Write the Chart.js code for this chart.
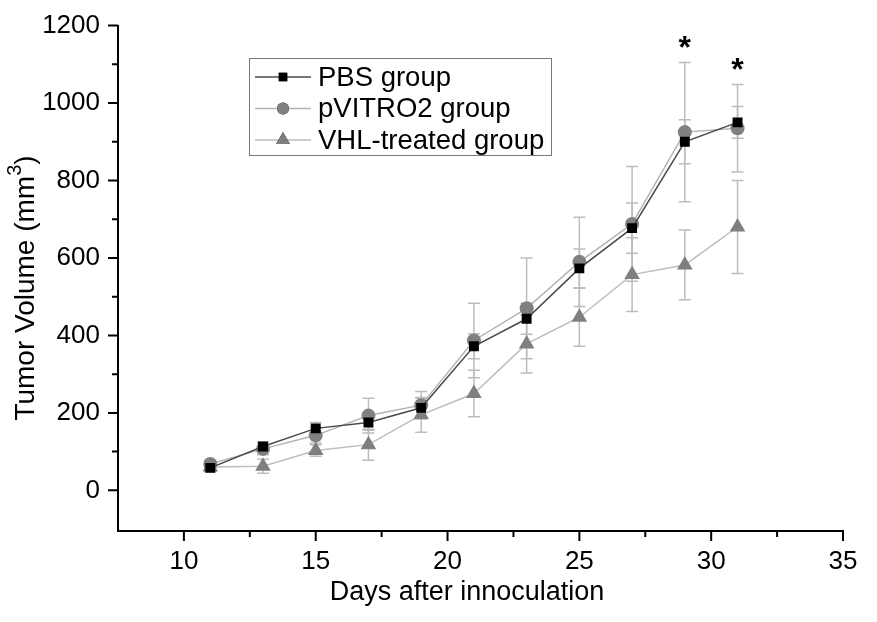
<!DOCTYPE html>
<html>
<head>
<meta charset="utf-8">
<script src="https://cdn.jsdelivr.net/npm/chart.js@4/dist/chart.umd.min.js"></script>
<style>
  html, body { margin: 0; padding: 0; background: #fff; }
  #wrap { width: 877px; height: 622px; }
</style>
</head>
<body>
<div id="wrap"><canvas id="chart"></canvas></div>
<script>
// data
const days = [11, 13, 15, 17, 19, 21, 23, 25, 27, 29, 31];
const pbsValues = [58, 113, 160, 175, 213, 372, 443, 573, 677, 900, 950];
const pvitroValues = [68, 107, 142, 193, 220, 387, 470, 590, 688, 925, 935];
const vhlValues = [60, 62, 103, 118, 195, 250, 378, 447, 557, 582, 680];
const pbsErr = [8, 12, 15, 20, 25, 32, 40, 50, 65, 57, 41];
const pvitroErr = [10, 15, 20, 45, 35, 96, 130, 115, 148, 180, 113];
const vhlErr = [12, 18, 15, 40, 45, 60, 75, 75, 95, 90, 120];
const starDays = [29, 31];
const xTicks = [10, 15, 20, 25, 30, 35];
const yTicks = [0, 200, 400, 600, 800, 1000, 1200];
const seriesNames = ['PBS group', 'pVITRO2 group', 'VHL-treated group'];

const FONT = 'Arial, "Liberation Sans", sans-serif';

// error bars, axis ticks, titles, stars and legend
const extras = {
  id: 'extras',
  beforeDatasetsDraw(chart) {
    const ctx = chart.ctx;
    const x = chart.scales.x, y = chart.scales.y;
    const errs = [pbsErr, pvitroErr, vhlErr];
    ctx.save();
    ctx.strokeStyle = '#bdbdbd';
    ctx.lineWidth = 1.5;
    chart.data.datasets.forEach((ds, i) => {
      ds.data.forEach((p, j) => {
        const px = x.getPixelForValue(p.x);
        const top = y.getPixelForValue(p.y + errs[i][j]);
        const bot = y.getPixelForValue(p.y - errs[i][j]);
        ctx.beginPath();
        ctx.moveTo(px, top); ctx.lineTo(px, bot);
        ctx.moveTo(px - 6, top); ctx.lineTo(px + 6, top);
        ctx.moveTo(px - 6, bot); ctx.lineTo(px + 6, bot);
        ctx.stroke();
      });
    });
    ctx.restore();
  },
  afterDraw(chart) {
    const ctx = chart.ctx;
    const x = chart.scales.x, y = chart.scales.y;
    const area = chart.chartArea;
    ctx.save();
    // major + minor ticks
    ctx.strokeStyle = '#000';
    ctx.lineWidth = 2;
    ctx.beginPath();
    xTicks.forEach((v, i) => {
      const px = x.getPixelForValue(v);
      ctx.moveTo(px, area.bottom); ctx.lineTo(px, area.bottom + 10);
      if (i > 0) {
        const mx = x.getPixelForValue(v - 2.5);
        ctx.moveTo(mx, area.bottom); ctx.lineTo(mx, area.bottom + 6);
      }
    });
    yTicks.forEach((v, i) => {
      const py = y.getPixelForValue(v);
      ctx.moveTo(area.left, py); ctx.lineTo(area.left - 10, py);
      if (i > 0) {
        const my = y.getPixelForValue(v - 100);
        ctx.moveTo(area.left, my); ctx.lineTo(area.left - 6, my);
      }
    });
    ctx.stroke();

    // significance stars above error bars
    ctx.fillStyle = '#000';
    ctx.font = 'bold 32px ' + FONT;
    ctx.textAlign = 'center';
    ctx.textBaseline = 'middle';
    starDays.forEach(d => {
      const j = days.indexOf(d);
      const top = Math.max(pbsValues[j] + pbsErr[j], pvitroValues[j] + pvitroErr[j], vhlValues[j] + vhlErr[j]);
      ctx.fillText('*', x.getPixelForValue(d), y.getPixelForValue(top) - 13);
    });

    // axis titles
    ctx.font = '27px ' + FONT;
    ctx.fillText('Days after innoculation', 467, 593);
    ctx.save();
    ctx.translate(26, 288);
    ctx.rotate(-Math.PI / 2);
    const main = 'Tumor Volume (mm';
    const supFont = '20px ' + FONT;
    ctx.font = '28px ' + FONT;
    const wMain = ctx.measureText(main).width;
    const wClose = ctx.measureText(')').width;
    ctx.font = supFont;
    const wSup = ctx.measureText('3').width;
    const total = wMain + wSup + wClose;
    let sx = -total / 2;
    ctx.textAlign = 'left';
    ctx.font = '28px ' + FONT;
    ctx.fillText(main, sx, 0);
    sx += wMain;
    ctx.font = supFont;
    ctx.fillText('3', sx, -11);
    sx += wSup;
    ctx.font = '28px ' + FONT;
    ctx.fillText(')', sx, 0);
    ctx.restore();

    // legend box
    const lx = 249, ly = 58, lw = 302, lh = 97;
    ctx.strokeStyle = '#777';
    ctx.lineWidth = 1;
    ctx.strokeRect(lx + 0.5, ly + 0.5, lw, lh);
    ctx.font = '27.5px ' + FONT;
    ctx.textAlign = 'left';
    chart.data.datasets.forEach((ds, i) => {
      const ry = ly + 19 + i * 31.5;
      ctx.strokeStyle = ds.borderColor;
      ctx.lineWidth = 1.5;
      ctx.beginPath();
      ctx.moveTo(lx + 6, ry); ctx.lineTo(lx + 62, ry);
      ctx.stroke();
      Chart.helpers.drawPoint(ctx, {
        pointStyle: ds.pointStyle,
        radius: ds.pointRadius - 1,
        borderWidth: 0
      }, lx + 34, ry);
      ctx.fillStyle = ds.pointBackgroundColor;
      ctx.fill();
      ctx.fillStyle = '#000';
      ctx.fillText(seriesNames[i], lx + 69, ry + 1);
    });
    ctx.restore();
  }
};

function toPoints(vals) {
  return days.map((d, i) => ({ x: d, y: vals[i] }));
}

new Chart(document.getElementById('chart'), {
  type: 'line',
  data: {
    datasets: [
      {
        label: seriesNames[0],
        data: toPoints(pbsValues),
        borderColor: '#4a4a4a',
        borderWidth: 1.5,
        pointStyle: 'rect',
        pointRadius: 7,
        pointBackgroundColor: '#000',
        pointBorderColor: '#000',
        pointBorderWidth: 0
      },
      {
        label: seriesNames[1],
        data: toPoints(pvitroValues),
        borderColor: '#b4b4b4',
        borderWidth: 1.5,
        pointStyle: 'circle',
        pointRadius: 7,
        pointBackgroundColor: '#808080',
        pointBorderColor: '#808080',
        pointBorderWidth: 0
      },
      {
        label: seriesNames[2],
        data: toPoints(vhlValues),
        borderColor: '#bdbdbd',
        borderWidth: 1.5,
        pointStyle: 'triangle',
        pointRadius: 9,
        pointBackgroundColor: '#7f7f7f',
        pointBorderColor: '#7f7f7f',
        pointBorderWidth: 0
      }
    ]
  },
  options: {
    responsive: true,
    maintainAspectRatio: false,
    animation: false,
    layout: { padding: { top: 16, right: 34, left: 0, bottom: 0 } },
    plugins: { legend: { display: false }, tooltip: { enabled: false } },
    scales: {
      x: {
        type: 'linear',
        min: 7.5,
        max: 35,
        afterBuildTicks: (s) => { s.ticks = xTicks.map(v => ({ value: v })); },
        afterFit: (s) => { s.height = 91; },
        grid: { display: false },
        border: { display: true, color: '#000', width: 2 },
        ticks: { color: '#000', font: { size: 26, family: FONT }, padding: 7, maxRotation: 0,
                 callback: (v) => String(v) }
      },
      y: {
        min: -105,
        max: 1200,
        afterBuildTicks: (s) => { s.ticks = yTicks.map(v => ({ value: v })); },
        afterFit: (s) => { s.width = 118; },
        grid: { display: false },
        border: { display: true, color: '#000', width: 2 },
        ticks: { color: '#000', font: { size: 26, family: FONT }, padding: 10,
                 callback: (v) => String(v) }
      }
    }
  },
  plugins: [extras]
});
</script>
</body>
</html>
